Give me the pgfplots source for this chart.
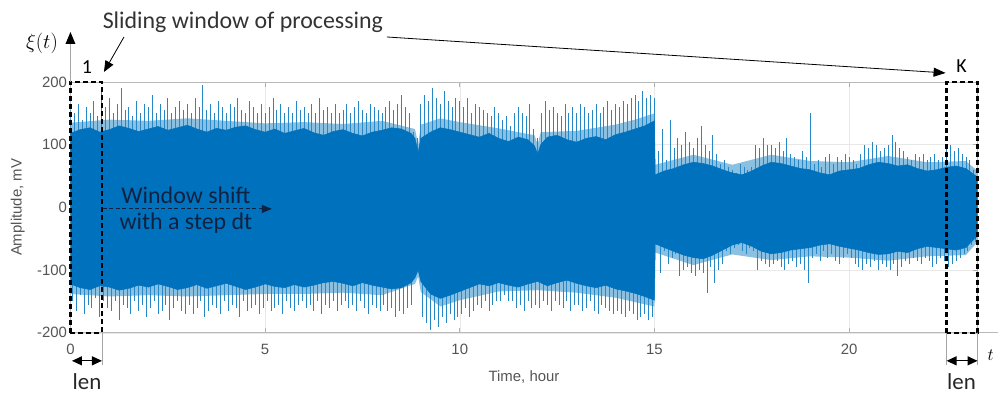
\documentclass[border=0pt]{standalone}
\usepackage{pgfplots}
\pgfplotsset{compat=1.18}
\usepackage{pgfplotstable}
\usepgfplotslibrary{fillbetween}
\usetikzlibrary{arrows.meta}
\usepackage{fontspec}
\setmainfont{Liberation Sans}
\newfontfamily\carl{Carlito}
\definecolor{mblue}{RGB}{0,114,189}
\definecolor{navy}{RGB}{16,34,66}
\definecolor{tickgray}{RGB}{85,85,85}

\pgfplotstableread{
t hi tb lo
0.0 155 0.05 -150
0.1 150 0.15 -165
0.2 165 0.25 -140
0.3 140 0.35 -170
0.4 160 0.45 -155
0.5 150 0.55 -160
0.6 170 0.65 -145
0.7 145 0.75 -175
0.8 185 0.85 -150
0.9 160 0.95 -160
1.0 175 1.05 -165
1.1 150 1.15 -150
1.2 165 1.25 -180
1.3 190 1.35 -155
1.4 155 1.45 -160
1.5 160 1.55 -170
1.6 145 1.65 -150
1.7 170 1.75 -165
1.8 150 1.85 -155
1.9 165 1.95 -175
2.0 160 2.05 -160
2.1 180 2.15 -150
2.2 150 2.25 -170
2.3 165 2.35 -165
2.4 155 2.45 -155
2.5 175 2.55 -180
2.6 150 2.65 -160
2.7 160 2.75 -150
2.8 170 2.85 -165
2.9 155 2.95 -170
3.0 165 3.05 -155
3.1 150 3.15 -170
3.2 175 3.25 -160
3.3 160 3.35 -150
3.4 195 3.45 -175
3.5 155 3.55 -165
3.6 165 3.65 -155
3.7 150 3.75 -160
3.8 170 3.85 -170
3.9 160 3.95 -150
4.0 150 4.05 -165
4.1 165 4.15 -155
4.2 160 4.25 -160
4.3 175 4.35 -175
4.4 155 4.45 -150
4.5 150 4.55 -165
4.6 170 4.65 -160
4.7 160 4.75 -155
4.8 150 4.85 -170
4.9 165 4.95 -160
5.0 150 5.05 -150
5.1 160 5.15 -165
5.2 175 5.25 -160
5.3 155 5.35 -155
5.4 165 5.45 -170
5.5 150 5.55 -150
5.6 160 5.65 -160
5.7 150 5.75 -165
5.8 170 5.85 -155
5.9 155 5.95 -150
6.0 160 6.05 -160
6.1 150 6.15 -155
6.2 165 6.25 -165
6.3 150 6.35 -150
6.4 175 6.45 -170
6.5 155 6.55 -155
6.6 160 6.65 -160
6.7 150 6.75 -150
6.8 165 6.85 -165
6.9 150 6.95 -155
7.0 155 7.05 -150
7.1 165 7.15 -160
7.2 150 7.25 -155
7.3 160 7.35 -165
7.4 170 7.45 -150
7.5 155 7.55 -160
7.6 150 7.65 -170
7.7 165 7.75 -155
7.8 160 7.85 -160
7.9 155 7.95 -165
8.0 150 8.05 -155
8.1 160 8.15 -165
8.2 170 8.25 -160
8.3 155 8.35 -175
8.4 165 8.45 -165
8.5 180 8.55 -170
8.6 160 8.65 -160
8.7 150 8.75 -155
8.8 120 8.85 -100
8.9 110 8.95 -95
9.0 165 9.05 -175
9.1 180 9.15 -185
9.2 170 9.25 -195
9.3 190 9.35 -180
9.4 175 9.45 -190
9.5 165 9.55 -175
9.6 185 9.65 -185
9.7 170 9.75 -170
9.8 160 9.85 -180
9.9 175 9.95 -175
10.0 170 10.05 -170
10.1 160 10.15 -160
10.2 175 10.25 -175
10.3 150 10.35 -165
10.4 165 10.45 -155
10.5 160 10.55 -160
10.6 155 10.65 -150
10.7 150 10.75 -165
10.8 145 10.85 -155
10.9 160 10.95 -150
11.0 150 11.05 -150
11.1 140 11.15 -140
11.2 145 11.25 -150
11.3 130 11.35 -150
11.4 150 11.45 -160
11.5 160 11.55 -155
11.6 150 11.65 -165
11.7 145 11.75 -150
11.8 165 11.85 -160
11.9 125 11.95 -155
12.0 110 12.05 -160
12.1 150 12.15 -150
12.2 170 12.25 -155
12.3 155 12.35 -165
12.4 160 12.45 -150
12.5 150 12.55 -155
12.6 145 12.65 -160
12.7 165 12.75 -150
12.8 150 12.85 -165
12.9 160 12.95 -155
13.0 150 13.05 -155
13.1 165 13.15 -165
13.2 160 13.25 -160
13.3 150 13.35 -150
13.4 155 13.45 -165
13.5 165 13.55 -170
13.6 150 13.65 -155
13.7 160 13.75 -160
13.8 170 13.85 -165
13.9 155 13.95 -170
14.0 165 14.05 -165
14.1 160 14.15 -170
14.2 170 14.25 -175
14.3 165 14.35 -165
14.4 175 14.45 -170
14.5 180 14.55 -180
14.6 170 14.65 -175
14.7 185 14.75 -170
14.8 175 14.85 -180
14.9 180 14.95 -175
15.0 175 15.05 -60
15.1 90 15.15 -105
15.2 125 15.25 -70
15.3 75 15.35 -90
15.4 140 15.45 -80
15.5 95 15.55 -75
15.6 110 15.65 -110
15.7 100 15.75 -100
15.8 120 15.85 -95
15.9 105 15.95 -105
16.0 95 16.05 -110
16.1 110 16.15 -100
16.2 130 16.25 -105
16.3 100 16.35 -137
16.4 90 16.45 -95
16.5 115 16.55 -120
16.6 85 16.65 -100
16.7 70 16.75 -90
16.8 75 16.85 -70
16.9 65 16.95 -75
17.0 60 17.05 -65
17.1 55 17.15 -60
17.2 70 17.25 -70
17.3 65 17.35 -75
17.4 60 17.45 -65
17.5 65 17.55 -70
17.6 100 17.65 -100
17.7 95 17.75 -85
17.8 110 17.85 -90
17.9 100 17.95 -95
18.0 100 18.05 -90
18.1 95 18.15 -85
18.2 105 18.25 -95
18.3 90 18.35 -100
18.4 110 18.45 -90
18.5 85 18.55 -85
18.6 80 18.65 -95
18.7 75 18.75 -90
18.8 90 18.85 -100
18.9 80 18.95 -121
19.0 150 19.05 -80
19.1 70 19.15 -75
19.2 75 19.25 -85
19.3 65 19.35 -70
19.4 80 19.45 -80
19.5 85 19.55 -75
19.6 70 19.65 -85
19.7 80 19.75 -90
19.8 75 19.85 -80
19.9 85 19.95 -75
20.0 80 20.05 -80
20.1 75 20.15 -90
20.2 70 20.25 -95
20.3 85 20.35 -100
20.4 100 20.45 -90
20.5 95 20.55 -95
20.6 105 20.65 -85
20.7 100 20.75 -100
20.8 90 20.85 -90
20.9 95 20.95 -95
21.0 100 21.05 -100
21.1 115 21.15 -90
21.2 105 21.25 -110
21.3 95 21.35 -95
21.4 90 21.45 -85
21.5 80 21.55 -90
21.6 75 21.65 -80
21.7 85 21.75 -85
21.8 80 21.85 -90
21.9 85 21.95 -80
22.0 75 22.05 -85
22.1 80 22.15 -95
22.2 85 22.25 -90
22.3 75 22.35 -80
22.4 80 22.45 -85
22.5 95 22.55 -95
22.6 100 22.65 -90
22.7 90 22.75 -85
22.8 95 22.85 -80
22.9 85 22.95 -75
23.0 80 23.05 -70
23.1 75 23.15 -60
23.2 60 23.25 -55
}\spikes

\begin{document}
\begin{tikzpicture}[x=1bp,y=1bp]
\path (0,0) rectangle (998,395);
\begin{axis}[
  at={(70.5bp,62bp)}, anchor=south west, scale only axis,
  width=907.5bp, height=251bp,
  xmin=0, xmax=23.3, ymin=-200, ymax=200,
  xtick={0,5,10,15,20}, ytick={-200,-100,0,100,200},
  grid=major, major grid style={gray!18, line width=0.5bp},
  axis line style={gray!55, line width=0.9bp},
  tick align=inside, major tick length=5bp,
  tick style={gray!60, line width=0.6bp},
  every tick label/.append style={font=\fontsize{15}{15}\selectfont, text=tickgray},
  /pgf/number format/assume math mode=true,
  xticklabel style={yshift=-8bp},
  xlabel={Time, hour}, ylabel={Amplitude, mV},
  label style={font=\fontsize{15}{15}\selectfont, text=tickgray},
  xlabel style={at={(axis description cs:0.5,-0.175)}, anchor=center},
  ylabel style={at={(axis description cs:-0.058,0.5)}, anchor=center},
  fill between/on layer=main,
]
% halo of dense thin spikes
\addplot[name path=HU, draw=none, no markers] coordinates {
(0,135) (1,140) (2,138) (3,142) (4,138) (5,134) (6,136) (7,133) (8,138) (8.85,125) (8.93,100)
(9.0,132) (9.5,142) (10,136) (11,126) (11.92,115) (12.0,100) (12.08,120) (13,122) (14,132)
(14.5,140) (15,150) (15.02,68) (16,84) (17,68) (18,84) (19,74) (20,72) (21,82) (22,72) (23,74) (23.3,58)};
\addplot[name path=HL, draw=none, no markers] coordinates {
(0,-138) (1,-142) (2,-140) (3,-142) (4,-140) (5,-138) (6,-138) (7,-136) (8,-140) (8.85,-122) (8.93,-110)
(9.0,-135) (9.5,-158) (10,-148) (11,-134) (12,-132) (13,-136) (14,-144) (15,-158) (15.02,-72)
(16,-92) (17,-75) (18,-84) (19,-78) (20,-80) (21,-85) (22,-78) (23,-76) (23.3,-55)};
\addplot[mblue!45] fill between[of=HU and HL];
\addplot[ycomb, no markers, mblue!85!white, line width=0.8bp] table[x=t,y=hi]{\spikes};
\addplot[ycomb, no markers, mblue!85!white, line width=0.8bp] table[x=tb,y=lo]{\spikes};
% dense core
\addplot[name path=U, draw=mblue, line width=0.5bp, no markers] coordinates {
(0,118) (0.25,124) (0.5,127) (0.75,120) (1,124) (1.25,130) (1.5,126) (1.75,121) (2,125) (2.25,129)
(2.5,123) (2.75,127) (3,131) (3.25,125) (3.5,120) (3.75,126) (4,123) (4.25,128) (4.5,130) (4.75,124)
(5,120) (5.25,125) (5.5,118) (5.75,122) (6,126) (6.25,119) (6.5,115) (6.75,121) (7,124) (7.25,118)
(7.5,114) (7.75,120) (8,123) (8.25,127) (8.5,125) (8.75,118) (8.85,110) (8.93,88) (9.0,110) (9.25,120)
(9.5,127) (9.75,124) (10,120) (10.25,116) (10.5,112) (10.75,118) (11,110) (11.25,105) (11.5,112)
(11.75,108) (11.92,98) (12.0,85) (12.08,100) (12.25,112) (12.5,115) (12.75,108) (13,104) (13.25,110)
(13.5,113) (13.75,108) (14,116) (14.25,120) (14.5,125) (14.75,130) (15.0,138)
(15.02,52) (15.25,58) (15.5,62) (15.75,68) (16,72) (16.25,70) (16.5,66) (16.75,60) (17,55) (17.25,52)
(17.5,58) (17.75,66) (18,72) (18.25,70) (18.5,66) (18.75,62) (19,60) (19.25,55) (19.5,52) (19.75,58)
(20,60) (20.25,62) (20.5,68) (20.75,72) (21,70) (21.25,66) (21.5,68) (21.75,62) (22,58) (22.25,60)
(22.5,64) (22.75,66) (23,62) (23.3,48)};
\addplot[name path=L, draw=mblue, line width=0.5bp, no markers] coordinates {
(0,-122) (0.25,-128) (0.5,-131) (0.75,-125) (1,-127) (1.25,-132) (1.5,-129) (1.75,-124) (2,-127) (2.25,-122)
(2.5,-126) (2.75,-131) (3,-128) (3.25,-123) (3.5,-129) (3.75,-125) (4,-121) (4.25,-126) (4.5,-131) (4.75,-127)
(5,-122) (5.25,-126) (5.5,-128) (5.75,-123) (6,-127) (6.25,-124) (6.5,-120) (6.75,-118) (7,-121) (7.25,-125)
(7.5,-120) (7.75,-124) (8,-127) (8.25,-130) (8.5,-128) (8.75,-120) (8.85,-112) (8.93,-100) (9.0,-118) (9.25,-138)
(9.5,-145) (9.75,-140) (10,-134) (10.25,-128) (10.5,-122) (10.75,-125) (11,-120) (11.25,-124) (11.5,-127)
(11.75,-122) (12.0,-118) (12.25,-125) (12.5,-120) (12.75,-116) (13,-121) (13.25,-125) (13.5,-128) (13.75,-124)
(14,-130) (14.25,-133) (14.5,-137) (14.75,-142) (15.0,-148)
(15.02,-58) (15.25,-64) (15.5,-70) (15.75,-76) (16,-80) (16.25,-82) (16.5,-76) (16.75,-68) (17,-60) (17.25,-56)
(17.5,-62) (17.75,-70) (18,-74) (18.25,-72) (18.5,-68) (18.75,-66) (19,-64) (19.25,-60) (19.5,-58) (19.75,-62)
(20,-65) (20.25,-68) (20.5,-72) (20.75,-75) (21,-74) (21.25,-70) (21.5,-72) (21.75,-66) (22,-62) (22.25,-64)
(22.5,-66) (22.75,-68) (23,-64) (23.3,-45)};
\addplot[mblue] fill between[of=U and L];
\end{axis}

% extension of x axis
\draw[gray!55, line width=0.9bp] (978,62) -- (998,62);
\node[font=\fontsize{18}{18}\selectfont, inner sep=1bp] at (991,40) {$t$};

% dashed windows
\draw[black, line width=2.4bp, dash pattern=on 5bp off 3bp] (70.5,62) rectangle (102,313);
\draw[black, line width=2.4bp, dash pattern=on 5bp off 3bp] (947,62) rectangle (978,313);

% xi(t) axis arrow
\draw[gray!70, line width=0.7bp] (70.5,313) -- (70.5,352);
\fill[black] (70.5,363) -- (65.5,351) -- (75.5,351) -- cycle;
\node[font=\fontsize{22}{22}\selectfont] at (42,352) {$\xi(t)$};

% labels 1 and K
\node[font=\carl\fontsize{20}{20}\selectfont] at (87,328) {1};
\node[font=\carl\fontsize{20}{20}\selectfont] at (962,329) {K};

% sliding window annotation
\node[font=\carl\fontsize{24}{24}\selectfont, text=black!80] at (243,373) {Sliding window of processing};
\draw[black, line width=0.8bp, -{Triangle[length=11bp,width=9bp]}] (124,358) -- (104,323);
\draw[black, line width=0.8bp, -{Triangle[length=12bp,width=9bp]}] (387,358) -- (946,322);

% window shift
\node[font=\carl\fontsize{24}{24}\selectfont, text=navy] at (186,200) {Window shift};
\node[font=\carl\fontsize{24}{24}\selectfont, text=navy] at (186,172) {with a step dt};
\draw[navy, line width=1bp, dash pattern=on 4bp off 2.5bp, -{Triangle[length=10bp,width=8bp]}] (103,186) -- (272,186);

% len markers
\draw[gray!70, line width=0.6bp] (102,62) -- (102,30);
\draw[gray!70, line width=0.6bp] (947,62) -- (947,30);
\draw[gray!70, line width=0.6bp] (978,62) -- (978,30);
\draw[black, line width=1.2bp, {Triangle[length=10bp,width=9bp]}-{Triangle[length=10bp,width=9bp]}] (72,34) -- (102,34);
\draw[black, line width=1.2bp, {Triangle[length=10bp,width=9bp]}-{Triangle[length=10bp,width=9bp]}] (947,34) -- (978,34);
\node[font=\carl\fontsize{23}{23}\selectfont, text=black!85] at (87,13) {len};
\node[font=\carl\fontsize{23}{23}\selectfont, text=black!85] at (962,13) {len};
\end{tikzpicture}
\end{document}
